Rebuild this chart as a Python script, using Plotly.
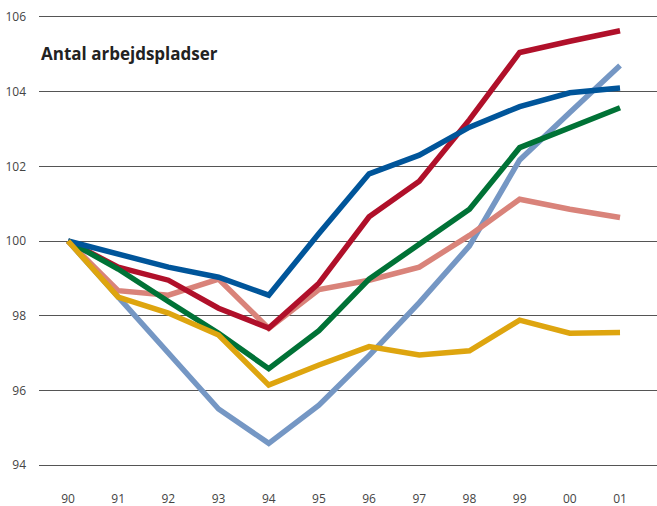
import plotly.graph_objects as go

years = ["90", "91", "92", "93", "94", "95", "96", "97", "98", "99", "00", "01"]
x_idx = list(range(len(years)))

light_blue = [100, 98.5, 97.0, 95.5, 94.58, 95.6, 96.93, 98.35, 99.87, 102.17, 103.44, 104.7]
salmon = [100, 98.67, 98.55, 98.98, 97.66, 98.7, 98.95, 99.3, 100.15, 101.12, 100.85, 100.63]
red = [100, 99.3, 98.95, 98.2, 97.67, 98.87, 100.65, 101.6, 103.25, 105.05, 105.35, 105.63]
green = [100, 99.25, 98.38, 97.53, 96.58, 97.6, 98.98, 99.92, 100.85, 102.5, 103.05, 103.57]
navy = [100, 99.65, 99.3, 99.03, 98.55, 100.2, 101.8, 102.3, 103.05, 103.6, 103.97, 104.1]
yellow = [100, 98.5, 98.07, 97.48, 96.14, 96.68, 97.17, 96.95, 97.06, 97.88, 97.53, 97.55]

y_ticks = [94, 96, 98, 100, 102, 104, 106]

series = [
    (light_blue, "#7597c4"),
    (salmon, "#d9837a"),
    (red, "#b0102a"),
    (green, "#007236"),
    (navy, "#00559a"),
    (yellow, "#dea50f"),
]

fig = go.Figure()
for vals, col in series:
    fig.add_trace(go.Scatter(
        x=x_idx, y=vals, mode="lines",
        line=dict(color=col, width=5.5, shape="linear"),
        hoverinfo="skip", showlegend=False,
    ))

pad = 0.08
fig.update_layout(
    width=657, height=506,
    margin=dict(l=39, r=0, t=14, b=38),
    plot_bgcolor="white", paper_bgcolor="white",
    font=dict(family="Open Sans, Noto Sans, sans-serif", color="#444444", size=12),
    xaxis=dict(
        range=[-0.578, 11.737],
        tickvals=x_idx, ticktext=years,
        showgrid=False, zeroline=False, showline=False,
        ticks="", ticklabelstandoff=22,
        tickfont=dict(size=12, color="#444444"),
        automargin=False, fixedrange=True,
    ),
    yaxis=dict(
        range=[94 - pad, 106 + pad],
        tickvals=y_ticks, ticktext=[str(v) for v in y_ticks],
        showgrid=True, gridcolor="#555555", gridwidth=1,
        zeroline=False, showline=False,
        ticks="", ticklabelstandoff=12,
        tickfont=dict(size=12, color="#444444"),
        automargin=False, fixedrange=True,
    ),
    annotations=[dict(
        text="<b>Antal arbejdspladser</b>",
        xref="paper", yref="paper", x=0, y=0.912,
        xanchor="left", yanchor="middle", showarrow=False,
        font=dict(size=17, color="#222222", family="Open Sans, Noto Sans, sans-serif"),
    )],
)

fig.write_html(
    "out.html",
    config={"displayModeBar": False, "staticPlot": True},
    post_script="document.body.style.margin='0';document.body.style.overflow='hidden';",
)
